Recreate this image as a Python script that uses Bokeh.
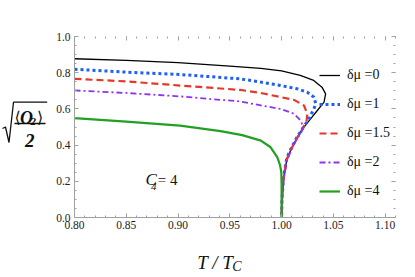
from bokeh.plotting import figure
from bokeh.models import (Range1d, FixedTicker, PrintfTickFormatter, LinearAxis,
                          Label, Legend, LegendItem)
from bokeh.layouts import row, column
from bokeh.embed import file_html
from bokeh.resources import INLINE

# ---------------- data ----------------
t_mu0 = [0.800, 0.850, 0.900, 0.950, 0.980, 1.000, 1.018, 1.031, 1.039, 1.0425,
         1.041, 1.0345, 1.028, 1.0216, 1.0152, 1.0103, 1.0055, 1.002, 1.0005, 1.000]
v_mu0 = [0.877, 0.868, 0.856, 0.836, 0.824, 0.810, 0.785, 0.757, 0.720, 0.683,
         0.637, 0.591, 0.545, 0.499, 0.444, 0.388, 0.333, 0.223, 0.100, 0.000]

t_mu1 = [0.800, 0.850, 0.902, 0.960, 0.980, 0.999, 1.0152, 1.0248, 1.0312, 1.033,
         1.0312, 1.0264, 1.020, 1.0145, 1.0095, 1.005, 1.0018, 1.0004, 1.000]
v_mu1 = [0.819, 0.803, 0.790, 0.766, 0.748, 0.729, 0.711, 0.692, 0.665, 0.628,
         0.600, 0.545, 0.490, 0.440, 0.385, 0.330, 0.220, 0.100, 0.000]

t_mu15 = [0.800, 0.850, 0.902, 0.960, 0.980, 0.999, 1.012, 1.0216, 1.0248, 1.0242,
          1.0184, 1.013, 1.0085, 1.0045, 1.0015, 1.0003, 1.000]
v_mu15 = [0.766, 0.752, 0.729, 0.705, 0.688, 0.665, 0.650, 0.619, 0.573, 0.536,
          0.471, 0.420, 0.370, 0.310, 0.200, 0.080, 0.000]

t_mu2 = [0.800, 0.850, 0.902, 0.960, 0.980, 0.999, 1.012, 1.0184, 1.021, 1.019,
         1.0145, 1.010, 1.0055, 1.002, 1.0004, 1.000]
v_mu2 = [0.702, 0.688, 0.669, 0.641, 0.619, 0.600, 0.573, 0.536, 0.499, 0.470,
         0.430, 0.380, 0.320, 0.210, 0.090, 0.000]

t_mu4 = [0.800, 0.850, 0.902, 0.941, 0.962, 0.980, 0.9894, 0.9958, 0.9985, 0.9997,
         1.000, 1.000]
v_mu4 = [0.549, 0.530, 0.508, 0.477, 0.455, 0.425, 0.388, 0.333, 0.290, 0.250,
         0.180, 0.000]

labels = ["δμ =0", "δμ =1", "δμ =1.5", "δμ =2", "δμ =4"]
x_ticks = [0.80, 0.85, 0.90, 0.95, 1.00, 1.05, 1.10]
y_ticks = [0.0, 0.2, 0.4, 0.6, 0.8, 1.0]
x_minor = [round(0.80 + 0.01 * i, 2) for i in range(32)]
y_minor = [round(0.05 * i, 2) for i in range(21)]

# ---------------- layout constants (window pixels) ----------------
W_YLAB = 50          # left strip holding the y label
H_MAIN = 240         # height of the row holding the plot
FRAME_L, FRAME_R, FRAME_T, FRAME_B = 74, 395, 36, 217
TOTAL_W, TOTAL_H = 415, 277
Y0, Y1 = 0.0, 1.0

FONT = "'Liberation Serif', 'Times New Roman', serif"
AX = "#a0a0a0"

# ---------------- main figure ----------------
p = figure(width=TOTAL_W - W_YLAB, height=H_MAIN, output_backend="svg",
           toolbar_location=None,
           x_range=Range1d(0.8, 1.11), y_range=Range1d(Y0, Y1),
           min_border_left=FRAME_L - W_YLAB, min_border_right=TOTAL_W - FRAME_R,
           min_border_top=FRAME_T, min_border_bottom=H_MAIN - FRAME_B)
p.outline_line_alpha = 0
p.xgrid.visible = False
p.ygrid.visible = False


def style_axis(ax, ticks, minor, fmt, show_labels=True, show_line=True):
    ax.ticker = FixedTicker(ticks=ticks, minor_ticks=minor)
    ax.formatter = PrintfTickFormatter(format=fmt)
    ax.major_tick_in = 4
    ax.major_tick_out = 0
    ax.minor_tick_in = 2
    ax.minor_tick_out = 0
    ax.major_tick_line_color = AX
    ax.minor_tick_line_color = AX
    ax.axis_line_color = AX if show_line else None
    ax.major_label_text_font = FONT
    ax.major_label_text_color = "#222222"
    if show_labels:
        ax.major_label_text_font_size = "11.5px"
        ax.major_label_standoff = 4
    else:
        ax.major_label_overrides = {t: "" for t in ticks}
        ax.major_label_text_font_size = "1px"
        ax.major_label_standoff = 0


style_axis(p.xaxis[0], x_ticks, x_minor, "%.2f")
style_axis(p.yaxis[0], y_ticks, y_minor, "%.1f")
p.xaxis[0].major_label_standoff = 3

top = LinearAxis()
style_axis(top, x_ticks, x_minor, "%.2f", show_labels=False, show_line=False)
p.add_layout(top, "above")
right = LinearAxis()
style_axis(right, y_ticks, y_minor, "%.1f", show_labels=False, show_line=False)
p.add_layout(right, "right")

# curves
r0 = p.line(t_mu0, v_mu0, line_color="#000000", line_width=1.3)
r1 = p.line(t_mu1, v_mu1, line_color="#1f5ff5", line_width=3, line_dash="3 3")
r15 = p.line(t_mu15, v_mu15, line_color="#e8372a", line_width=2.2, line_dash="7 4")
r2 = p.line(t_mu2, v_mu2, line_color="#8f33ee", line_width=1.8, line_dash="6 3 2 3")
r4 = p.line(t_mu4, v_mu4, line_color="#22a022", line_width=2.2)

legend = Legend(items=[LegendItem(label=l, renderers=[r])
                       for l, r in zip(labels, [r0, r1, r15, r2, r4])],
                location=(245, 16), padding=0, margin=0, spacing=9,
                glyph_width=21, glyph_height=20, label_height=20, label_standoff=7,
                label_text_font=FONT, label_text_font_size="14px",
                label_text_color="#111111",
                border_line_alpha=0, background_fill_alpha=0)
p.add_layout(legend)


def frame_label(text, ox, oy, size, style="normal", font=FONT):
    p.add_layout(Label(x=ox - FRAME_L, y=FRAME_B - oy, x_units="screen", y_units="screen",
                       text=text, text_font=font, text_font_size=size,
                       text_font_style=style, text_baseline="alphabetic",
                       text_color="#111111"))


# C_4 = 4
frame_label("C", 145, 179.3, "17px", "italic")
frame_label("4", 150.5, 186, "11px", "italic")
frame_label("= 4", 157.3, 179.3, "15px")

# ---------------- y-label strip (same vertical frame as the plot) ----------------
ylab = figure(width=W_YLAB, height=H_MAIN, output_backend="svg", toolbar_location=None,
              x_range=Range1d(0, W_YLAB), y_range=Range1d(Y0, Y1),
              x_axis_location=None, y_axis_location=None,
              min_border_left=0, min_border_right=0,
              min_border_top=FRAME_T, min_border_bottom=H_MAIN - FRAME_B)
ylab.outline_line_alpha = 0
ylab.grid.visible = False


def vy(oy):
    # window pixel row -> value on the shared vertical scale
    return Y0 + (FRAME_B - oy) / (FRAME_B - FRAME_T) * (Y1 - Y0)


def yput(text, ox, oy, size, style="normal", font=FONT, align="left"):
    ylab.add_layout(Label(x=ox, y=vy(oy), text=text, text_font=font,
                          text_font_size=size, text_font_style=style,
                          text_align=align, text_baseline="alphabetic",
                          text_color="#111111"))


rad_px = [(2, 128), (5, 126.5), (8.5, 142), (13, 101.7), (46.7, 101.7)]
ylab.line([a for a, b in rad_px], [vy(b) for a, b in rad_px],
          line_color="#111111", line_width=1.3)
ylab.line([14, 45], [vy(123), vy(123)], line_color="#111111", line_width=1.6)
yput("⟨", 14, 116.5, "16px", font="'DejaVu Serif', serif")
yput("O", 19.5, 117.7, "18px", "bold italic")
yput("2", 30, 120.5, "11px", "bold italic")
yput("⟩", 36.5, 116.5, "16px", font="'DejaVu Serif', serif")
yput("2", 29.2, 140, "19px", "bold italic", align="center")

# ---------------- x-label strip ----------------
H_X = TOTAL_H - H_MAIN
xlab = figure(width=TOTAL_W, height=H_X, output_backend="svg", toolbar_location=None,
              x_range=Range1d(0, TOTAL_W), y_range=Range1d(0, H_X),
              x_axis_location=None, y_axis_location=None, min_border=0)
xlab.outline_line_alpha = 0
xlab.grid.visible = False


def xput(text, ox, oy, size, style="normal"):
    xlab.add_layout(Label(x=ox, y=TOTAL_H - oy, text=text, text_font=FONT,
                          text_font_size=size, text_font_style=style,
                          text_baseline="alphabetic", text_color="#111111"))


xput("T / T", 196.7, 262, "19px", "italic")
xput("C", 231.7, 265.5, "14px", "italic")

layout = column(row(ylab, p), xlab)
open("out.html", "w").write(file_html(layout, INLINE))
